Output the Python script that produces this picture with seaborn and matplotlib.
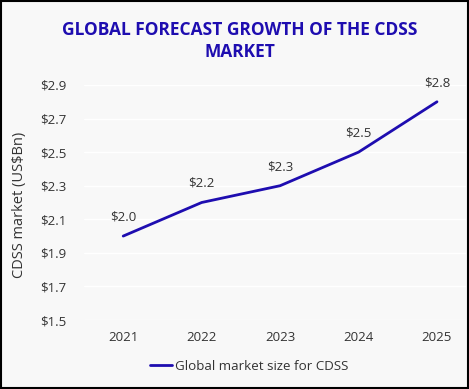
import matplotlib
matplotlib.use("Agg")
import matplotlib.pyplot as plt
import seaborn as sns
import pandas as pd
from matplotlib.patches import Rectangle

# data
years = ['2021', '2022', '2023', '2024', '2025']
market_size = [2.0, 2.2, 2.3, 2.5, 2.8]
y_ticks = [1.5, 1.7, 1.9, 2.1, 2.3, 2.5, 2.7, 2.9]

sns.set_style("white")
plt.rcParams['font.family'] = ['Open Sans', 'DejaVu Sans']

line_color = '#1E0DB0'
bg = '#F8F8F8'

df = pd.DataFrame({'year': years, 'size': market_size})

fig = plt.figure(figsize=(4.69, 3.89), dpi=100, facecolor=bg)
ax = fig.add_axes([84 / 469, 1 - 320 / 389, (466 - 84) / 469, (320 - 85) / 389])
ax.set_facecolor(bg)

sns.lineplot(data=df, x='year', y='size', ax=ax, color=line_color, linewidth=2,
             sort=False, label='Global market size for CDSS')

# value labels
for i, v in enumerate(market_size):
    ax.annotate(f'${v:.1f}', (i, v), xytext=(0, 9), textcoords='offset points',
                ha='center', va='bottom', fontsize=9.5, color='#333333')

ax.set_ylim(1.5, 2.9)
ax.set_xlim(-0.5, 4.37)
ax.set_yticks(y_ticks)
ax.set_yticklabels([f'${t:.1f}' for t in y_ticks])
ax.yaxis.grid(True, color='white', linewidth=1)
ax.set_axisbelow(True)
ax.tick_params(axis='both', length=0, labelsize=9.5, labelcolor='#333333')
ax.tick_params(axis='y', pad=12.5)
ax.tick_params(axis='x', pad=8)
for s in ax.spines.values():
    s.set_visible(False)
ax.set_xlabel('')
ax.set_ylabel('CDSS market (US$Bn)', fontsize=10.5, color='#333333')
ax.yaxis.set_label_coords(-0.15, 0.49)

leg = ax.legend(loc='center', bbox_to_anchor=(0.432, -0.196), frameon=False,
                fontsize=9.6, handlelength=1.7, handletextpad=0.2)
for t in leg.get_texts():
    t.set_color('#333333')

fig.text(0.512, 0.895, 'GLOBAL FORECAST GROWTH OF THE CDSS\nMARKET', ha='center', va='center',
         fontsize=12.5, fontweight='bold', color=line_color, linespacing=1.3)

fig.patches.append(Rectangle((0.002, 0.002), 0.996, 0.996, transform=fig.transFigure,
                             fill=False, edgecolor='black', linewidth=1.5))

fig.savefig('out.png', dpi=100, facecolor=bg)
